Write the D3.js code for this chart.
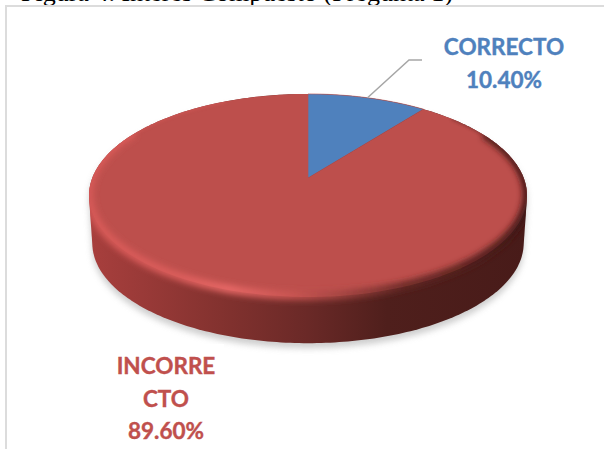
<!DOCTYPE html>
<html><head><meta charset="utf-8">
<script src="https://cdn.jsdelivr.net/npm/d3@7/dist/d3.min.js"></script>
<style>html,body{margin:0;padding:0;background:#fff;overflow:hidden}svg{display:block}</style>
</head><body><svg id="c" width="604" height="449"></svg>
<script>
(function () {
const captionText = "Figura 4. Interés Compuesto (Pregunta 1)";
const categories = ["CORRECTO", "INCORRECTO"];
const values = [10.4, 89.6];
const valueLabels = ["10.40%", "89.60%"];
const labelLines = [["CORRECTO"], ["INCORRE", "CTO"]];
const sliceColors = ["#4F81BD", "#BD4F4C"];
const labelColors = ["#4F81BD", "#C0504D"];

const svg = d3.select("#c");
const defs = svg.append("defs");
const W = 604, H = 449;

// perspective projection of the unit pie disc
const P = {cx: 308, cy: 178, X: 215.7, Y: 98.5, k: 0.172};
function proj(theta, r = 1, scale = 1, dy = 0) {
  const u = r * Math.sin(theta), v = -r * Math.cos(theta);
  const d = 1 - P.k * v;
  return [P.cx + scale * P.X * u / d, P.cy + scale * P.Y * v / d + dy];
}
const line = d3.line().curve(d3.curveLinear);
const full = d3.range(0, 361, 1).map(d => d * Math.PI / 180);
const topRing = full.map(t => proj(t));
const lowRing = full.map(t => proj(t, 1, 0.985, 48));
const hull = d3.polygonHull(topRing.concat(lowRing));

// defs
const blur = (id, s) => defs.append("filter").attr("id", id)
  .attr("x", "-20%").attr("y", "-20%").attr("width", "140%").attr("height", "140%")
  .append("feGaussianBlur").attr("stdDeviation", s);
blur("b1", 1.6); blur("b3", 3.4); blur("bs", 3.4);
function grad(id, stops) {
  const g = defs.append("linearGradient").attr("id", id).attr("gradientUnits", "userSpaceOnUse")
    .attr("x1", 89).attr("x2", 527).attr("y1", 0).attr("y2", 0);
  stops.forEach(s => g.append("stop").attr("offset", s[0]).attr("stop-color", s[1]));
}
grad("side", [[0, "#a83f3d"], [0.12, "#9a3a38"], [0.3, "#83322f"], [0.5, "#6a2927"], [0.68, "#4f1f1c"], [1, "#481b19"]]);
grad("rim", [[0, "#d85a58"], [0.2, "#dd5e5c"], [0.32, "#ea6a68"], [0.46, "#cb5653"], [0.58, "#a04340"], [0.72, "#642724"], [1, "#3f1715"]]);
defs.append("clipPath").attr("id", "topClip").append("path").attr("d", line(topRing) + "Z");
defs.append("clipPath").attr("id", "hullClip").append("path").attr("d", line(hull) + "Z");

// background & frame
svg.append("text").attr("x", 21).attr("y", 1).attr("font-family", "Liberation Serif")
  .attr("font-size", 26).attr("fill", "#000").text(captionText);
svg.append("rect").attr("x", 6).attr("y", 6).attr("width", W).attr("height", H)
  .attr("fill", "#fff").attr("stroke", "#dcdcdc").attr("stroke-width", 2);

// shadow
svg.append("path").attr("d", line(hull) + "Z").attr("fill", "#bdbdbd").attr("opacity", 0.75)
  .attr("transform", "translate(0,5)").attr("filter", "url(#bs)");
svg.append("rect").attr("x", 100).attr("y", 344).attr("width", 124).attr("height", 100).attr("fill", "#fff");

// side wall
svg.append("path").attr("d", line(hull) + "Z").attr("fill", "url(#side)");

// slices from d3.pie
const pie = d3.pie().sort(null).value(d => d)(values);
const face = svg.append("g");
pie.forEach((s, i) => {
  const n = Math.max(2, Math.ceil((s.endAngle - s.startAngle) * 60));
  const pts = d3.range(n + 1).map(j => proj(s.startAngle + (s.endAngle - s.startAngle) * j / n));
  face.append("path").attr("d", line([[P.cx, P.cy], ...pts]) + "Z").attr("fill", sliceColors[i])
    .attr("stroke", i ? "none" : "#BD4F4C").attr("stroke-width", i ? 0 : 0.6);
});
const bevel = svg.append("g").attr("clip-path", "url(#hullClip)");
const lowerArc = d3.range(62, 300, 1).map(d => proj(d * Math.PI / 180));
bevel.append("path").attr("d", line(lowerArc)).attr("fill", "none").attr("stroke", "url(#rim)")
  .attr("stroke-width", 8).attr("filter", "url(#b3)").attr("transform", "translate(0,-1)");
const topBevel = svg.append("g").attr("clip-path", "url(#topClip)");
const leftArc = d3.range(270, 335, 1).map(d => proj(d * Math.PI / 180));
topBevel.append("path").attr("d", line(leftArc)).attr("fill", "none").attr("stroke", "#d65a58")
  .attr("stroke-width", 3).attr("opacity", 0.55).attr("filter", "url(#b1)");
const rightArc = d3.range(48, 92, 1).map(d => proj(d * Math.PI / 180));
topBevel.append("path").attr("d", line(rightArc)).attr("fill", "none").attr("stroke", "#6a2a28")
  .attr("stroke-width", 2.4).attr("opacity", 0.6).attr("filter", "url(#b1)");

// leader line
const mid = (pie[0].startAngle + pie[0].endAngle) / 2;
const a = proj(mid);
svg.append("polyline").attr("points", [a, [409, 60], [422, 60]].map(p => p.join(",")).join(" "))
  .attr("fill", "none").attr("stroke", "#a6a6a6").attr("stroke-width", 1.5);

// labels
function lbl(x, baselines, lines, color) {
  lines.forEach((t, i) => svg.append("text").attr("x", x).attr("y", baselines[i])
    .attr("text-anchor", "middle").attr("font-family", "Lato, 'Open Sans'").attr("font-weight", 700)
    .attr("font-size", 22.5).attr("fill", color).attr("stroke", color).attr("stroke-width", 0.4).text(t));
}
lbl(504, [55, 88], [...labelLines[0], valueLabels[0]], labelColors[0]);
lbl(166, [374, 407, 439], [...labelLines[1], valueLabels[1]], labelColors[1]);
})();
</script></body></html>
